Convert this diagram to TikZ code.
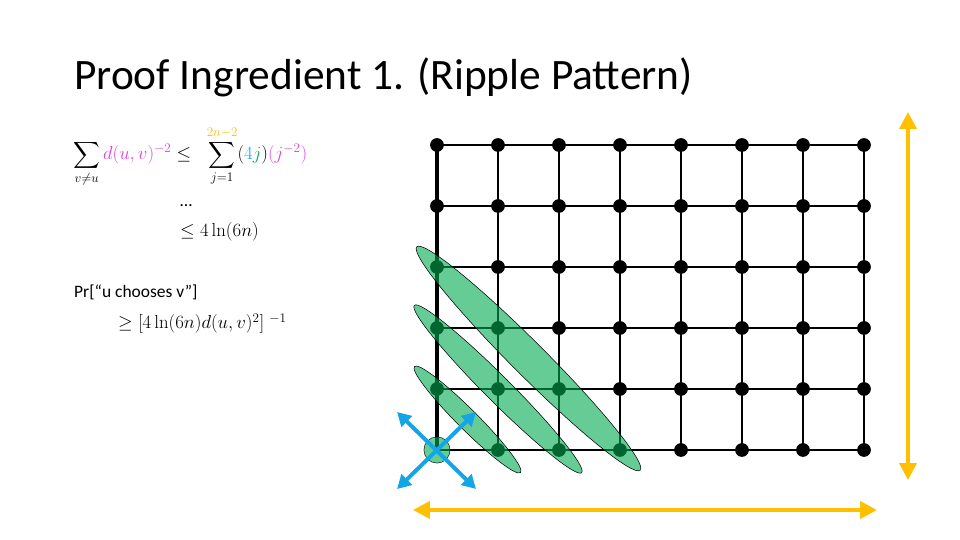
\RequirePackage{fix-cm}
\documentclass[tikz,border=0pt]{standalone}
\usepackage{exscale}
\usepackage[no-math]{fontspec}
\setmainfont{Carlito}
\usepackage{tikz}
\usetikzlibrary{calc,arrows.meta,backgrounds}
\definecolor{ripplegreen}{RGB}{0,170,80}
\definecolor{axisgold}{RGB}{255,192,0}
\definecolor{crossblue}{RGB}{20,165,230}
\definecolor{distpink}{RGB}{224,64,224}
\definecolor{fourblue}{RGB}{0,176,240}
\definecolor{jgreen}{RGB}{0,176,80}
\newcommand{\gridwidth}{2.7pt}
\newcommand{\nodesize}{0.45cm}
\newcommand{\textsz}{\fontsize{16.3}{20}\selectfont}
\newcommand{\mathsz}{\fontsize{17.5}{21}\selectfont}

\begin{document}
\begin{tikzpicture}[
  dot/.style={circle, fill, inner sep=0pt, minimum size=\nodesize},
  home/.style={circle, draw, thin, fill=ripplegreen, fill opacity=0.6, inner sep=0pt, minimum size=0.86cm},
  ripple/.style={draw, line width=0.5pt, fill=ripplegreen, fill opacity=0.6},
  cross/.style={crossblue, line width=3.7pt, {Triangle[length=0.45cm,width=0.48cm]}-{Triangle[length=0.45cm,width=0.48cm]}},
  span/.style={axisgold, line width=3.7pt, {Triangle[length=0.55cm,width=0.55cm]}-{Triangle[length=0.55cm,width=0.55cm]}},
  txt/.style={anchor=base west, inner sep=0pt, font=\textsz},
  eq/.style={anchor=base west, inner sep=0pt, font=\mathsz}
]
\useasboundingbox (-14.328,-12.951) rectangle (17.148,4.754);
%title
\node[anchor=base west, inner sep=0pt, font=\fontsize{40.5}{48}\selectfont] (title) at (-11.902, 1.803) {Proof Ingredient 1. (Ripple Pattern)};
%formulas
\node[eq] (sum) at (-11.934, -0.492) {$\displaystyle\sum_{v\neq u}\textcolor{distpink}{d(u,v)^{-2}}\leq\;\;\sum_{j=1}^{\textcolor{axisgold}{2n-2}}(\textcolor{fourblue}{4}\textcolor{jgreen}{j})\textcolor{distpink}{(j^{-2})}$};
\node[txt] (dots) at (-8.426, -2.033) {…};
\node[eq] (bound) at (-8.426, -2.984) {$\leq 4\ln(6n)$};
\node[txt] (prob) at (-11.902, -4.984) {Pr[“u chooses v”]};
\node[eq] (lower) at (-10.459, -6.033) {$\geq [4\ln(6n)d(u,v)^2]\;{}^{-1}$};
%grid
\node[dot] (1) at (0.0, 0.0) {};
\node[dot] (2) at (2.0, 0.0) {};
\node[dot] (3) at (4.0, 0.0) {};
\node[dot] (4) at (6.0, 0.0) {};
\node[dot] (5) at (8.0, 0.0) {};
\node[dot] (6) at (10.0, 0.0) {};
\node[dot] (7) at (12.0, 0.0) {};
\node[dot] (8) at (14.0, 0.0) {};
\node[dot] (9) at (0.0, -2.0) {};
\node[dot] (10) at (2.0, -2.0) {};
\node[dot] (11) at (4.0, -2.0) {};
\node[dot] (12) at (6.0, -2.0) {};
\node[dot] (13) at (8.0, -2.0) {};
\node[dot] (14) at (10.0, -2.0) {};
\node[dot] (15) at (12.0, -2.0) {};
\node[dot] (16) at (14.0, -2.0) {};
\node[dot] (17) at (0.0, -4.0) {};
\node[dot] (18) at (2.0, -4.0) {};
\node[dot] (19) at (4.0, -4.0) {};
\node[dot] (20) at (6.0, -4.0) {};
\node[dot] (21) at (8.0, -4.0) {};
\node[dot] (22) at (10.0, -4.0) {};
\node[dot] (23) at (12.0, -4.0) {};
\node[dot] (24) at (14.0, -4.0) {};
\node[dot] (25) at (0.0, -6.0) {};
\node[dot] (26) at (2.0, -6.0) {};
\node[dot] (27) at (4.0, -6.0) {};
\node[dot] (28) at (6.0, -6.0) {};
\node[dot] (29) at (8.0, -6.0) {};
\node[dot] (30) at (10.0, -6.0) {};
\node[dot] (31) at (12.0, -6.0) {};
\node[dot] (32) at (14.0, -6.0) {};
\node[dot] (33) at (0.0, -8.0) {};
\node[dot] (34) at (2.0, -8.0) {};
\node[dot] (35) at (4.0, -8.0) {};
\node[dot] (36) at (6.0, -8.0) {};
\node[dot] (37) at (8.0, -8.0) {};
\node[dot] (38) at (10.0, -8.0) {};
\node[dot] (39) at (12.0, -8.0) {};
\node[dot] (40) at (14.0, -8.0) {};
\node[home] (41) at (0.0, -10.0) {};
\node[dot] (42) at (2.0, -10.0) {};
\node[dot] (43) at (4.0, -10.0) {};
\node[dot] (44) at (6.0, -10.0) {};
\node[dot] (45) at (8.0, -10.0) {};
\node[dot] (46) at (10.0, -10.0) {};
\node[dot] (47) at (12.0, -10.0) {};
\node[dot] (48) at (14.0, -10.0) {};
\begin{scope}[on background layer={line width=\gridwidth}]
\draw (1.center) -- (8.center);
\draw (9.center) -- (16.center);
\draw (17.center) -- (24.center);
\draw (25.center) -- (32.center);
\draw (33.center) -- (40.center);
\draw (41.center) -- (48.center);
\draw [line width=3.5pt] (1.center) -- (41.center);
\draw (2.center) -- (42.center);
\draw (3.center) -- (43.center);
\draw (4.center) -- (44.center);
\draw (5.center) -- (45.center);
\draw (6.center) -- (46.center);
\draw (7.center) -- (47.center);
\draw (8.center) -- (48.center);
\end{scope}
%ripples
\coordinate (r1) at ($(33)!0.5!(42)$);
\coordinate (r2) at ($(25)!0.5!(43)$);
\coordinate (r3) at ($(17)!0.5!(44)$);
\filldraw[ripple, rotate around={-45:(r1)}] (r1) ellipse (2.46 and 0.33);
\filldraw[ripple, rotate around={-45:(r2)}] (r2) ellipse (3.88 and 0.42);
\filldraw[ripple, rotate around={-45:(r3)}] (r3) ellipse (5.18 and 0.55);
%moves from u
\coordinate (nw) at (-1.31, -8.754);
\coordinate (ne) at (1.279, -8.754);
\coordinate (sw) at (-1.31, -11.279);
\coordinate (se) at (1.279, -11.279);
\draw[cross] (nw) -- (se);
\draw[cross] (ne) -- (sw);
%size of the grid
\coordinate (top) at (15.443, 1.082);
\coordinate (bottom) at (15.443, -10.984);
\coordinate (left) at (-0.787, -11.967);
\coordinate (right) at (14.426, -11.967);
\draw[span] (top) -- (bottom);
\draw[span] (left) -- (right);
\end{tikzpicture}
\end{document}
